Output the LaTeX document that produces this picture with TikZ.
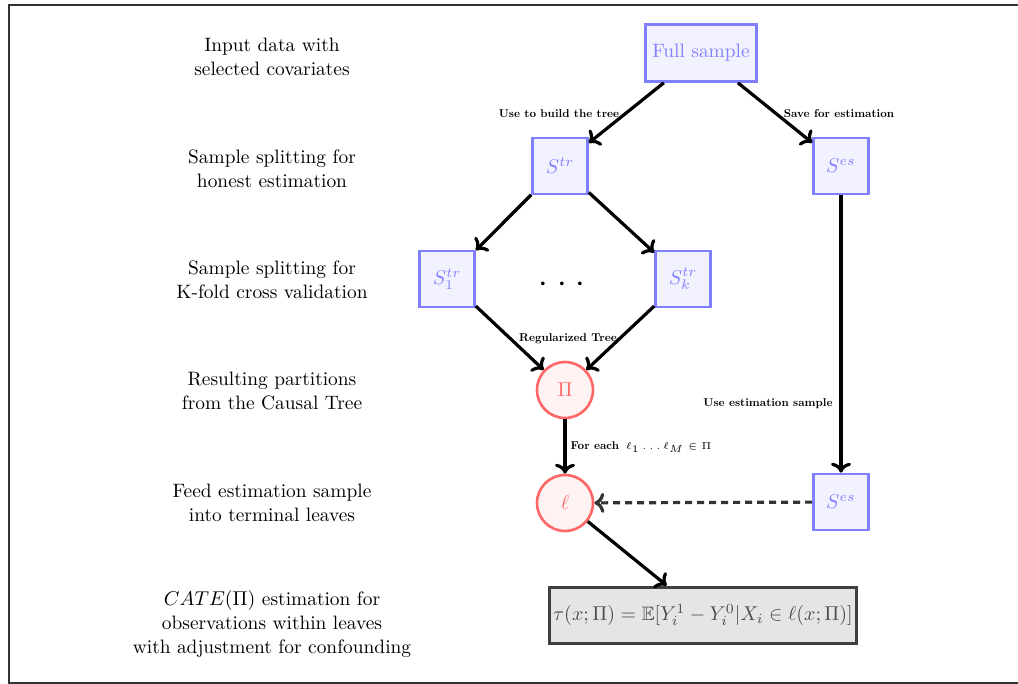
\documentclass[tikz,border=0pt]{standalone}
\usepackage{amsmath,amssymb,graphicx}
\usetikzlibrary{arrows.meta}
\newcommand\elabtext[1]{\scalebox{0.57}{\bfseries #1}}
\begin{document}
\begin{tikzpicture}[x=0.5pt,y=-0.5pt,
  mainfont/.style={font=\fontsize{9.7}{12}\selectfont},
  sbox/.style={mainfont,draw=blue!50,fill=blue!5,line width=1.3pt,text=blue!50,minimum width=27.5pt,minimum height=28pt,inner sep=1pt},
  fbox/.style={mainfont,draw=blue!50,fill=blue!5,line width=1.3pt,text=blue!50,minimum width=55.5pt,minimum height=28.5pt,inner sep=1pt},
  cnode/.style={mainfont,circle,draw=red!60,fill=red!5,line width=1.3pt,text=red!60,minimum size=28pt,inner sep=0pt},
  rbox/.style={mainfont,draw=black!75,fill=gray!20,line width=1.5pt,text=black!70,minimum width=152pt,minimum height=28pt,inner sep=2pt},
  lab/.style={mainfont,align=center},
  elab/.style={inner sep=0pt},
  arr/.style={-{To[length=5pt,width=10pt]},line width=1.6pt,black},
  darr/.style={-{To[length=5pt,width=10pt]},line width=1.6pt,black!80,dash pattern=on 3.5pt off 2.5pt},
  frame/.style={line width=0.8pt,black!80}]
\useasboundingbox (0,0) rectangle (1018,684);
\coordinate (f1) at (9,683);
\coordinate (f2) at (9,5);
\coordinate (f3) at (1018,5);
\coordinate (f4) at (1018,683);
\draw[frame] (f3) -- (f2) -- (f1) -- (f4);

% left labels
\node[lab] (t1) at (272,57) {Input data with\\selected covariates};
\node[lab] (t2) at (272,169) {Sample splitting for\\honest estimation};
\node[lab] (t3) at (272,280) {Sample splitting for\\K-fold cross validation};
\node[lab] (t4) at (272,391) {Resulting partitions\\from the Causal Tree};
\node[lab] (t5) at (272,503) {Feed estimation sample\\into terminal leaves};
\node[lab] (t6) at (272,624) {$CATE(\Pi)$ estimation for\\observations within leaves\\with adjustment for confounding};

% nodes
\node[fbox] (full) at (701,53) {Full sample};
\node[sbox] (str) at (560,166) {$S^{tr}$};
\node[sbox] (ses) at (841,166) {$S^{es}$};
\node[sbox] (s1) at (447,279) {$S^{tr}_1$};
\node[sbox] (sk) at (683,279) {$S^{tr}_k$};
\node (dots) at (562,285) {\LARGE$\mathord{\cdot}\hspace{4.4pt}\mathord{\cdot}\hspace{4.4pt}\mathord{\cdot}$};
\node[cnode] (pi) at (565,390) {$\Pi$};
\node[cnode] (ell) at (565,503) {$\ell$};
\node[sbox] (ses2) at (841,502) {$S^{es}$};
\node[rbox] (tau) at (703,615) {$\tau(x;\Pi)=\mathbb{E}[Y_i^1-Y_i^0|X_i\in\ell(x;\Pi)]$};

% connectors
\draw[arr] (full) -- (str);
\draw[arr] (full) -- (ses);
\draw[arr] (str) -- (s1);
\draw[arr] (str) -- (sk);
\draw[arr] (s1) -- (pi);
\draw[arr] (sk) -- (pi);
\draw[arr] (pi) -- (ell);
\draw[arr] (ses) -- (ses2);
\draw[darr] (ses2) -- (ell);
\draw[arr] (ell) -- (tau);

% edge labels
\node[elab] (e1) at (559,114) {\elabtext{Use to build the tree}};
\node[elab] (e2) at (839,114) {\elabtext{Save for estimation}};
\node[elab] (e3) at (568,339) {\elabtext{Regularized Tree}};
\node[elab] (e4) at (768,404) {\elabtext{Use estimation sample}};
\node[elab] (e5) at (641,447) {\elabtext{For each} {\tiny$\ell_1\ldots\ell_M\in\Pi$}};
\end{tikzpicture}
\end{document}
